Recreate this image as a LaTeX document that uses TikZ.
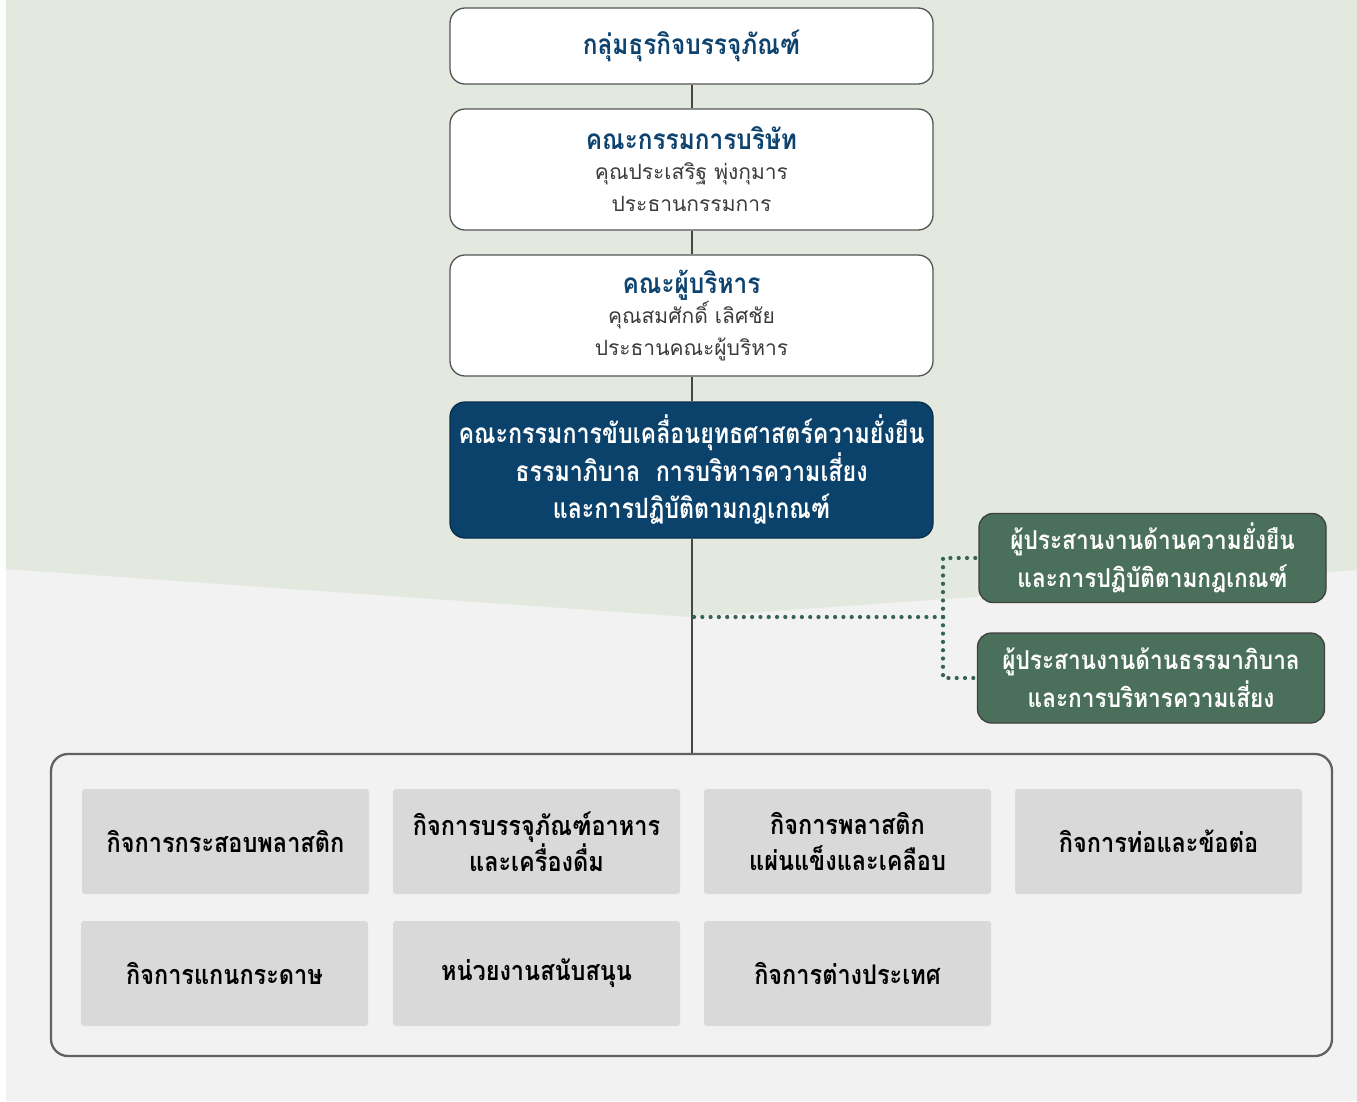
\documentclass[tikz,border=0pt]{standalone}
\usepackage{fontspec}
\setmainfont[Script=Thai]{Loma}
\newfontfamily\thaicond[Script=Thai,FakeStretch=0.83]{Loma}
\newfontfamily\thaicondw[Script=Thai,FakeStretch=0.87]{Loma}
\definecolor{bgGreen}{HTML}{E3E9DF}
\definecolor{bgGray}{HTML}{F2F2F2}
\definecolor{navy}{HTML}{0B426C}
\definecolor{titleblue}{HTML}{0D436E}
\definecolor{coordgreen}{HTML}{4A6F5B}
\definecolor{dotgreen}{HTML}{36644F}
\definecolor{edge}{HTML}{555555}
\definecolor{tile}{HTML}{D9D9D9}
\definecolor{bodygray}{HTML}{3C3C3C}
\tikzset{
  whitebox/.style={draw=edge, line width=1.3pt, fill=white, rounded corners=15pt,
    minimum width=483pt, align=center, text=bodygray},
  navybox/.style={draw=navy!70!black, line width=1.3pt, fill=navy, rounded corners=15pt,
    minimum width=483pt, minimum height=136pt, align=center, text=white,
    font=\thaicond\bfseries\fontsize{28}{37.5}\selectfont},
  greenbox/.style={draw=black!75, line width=1.3pt, fill=coordgreen, rounded corners=14pt,
    minimum width=347pt, minimum height=89pt, align=center, text=white,
    font=\thaicondw\bfseries\fontsize{26}{38}\selectfont},
  tilebox/.style={fill=tile, rounded corners=3pt, minimum width=287pt, minimum height=105pt,
    align=center, text=black, font=\thaicondw\bfseries\fontsize{27}{36}\selectfont},
  frame/.style={draw=black!62, line width=2.3pt, fill=bgGray, rounded corners=17pt,
    minimum width=1281pt, minimum height=302pt},
  conn/.style={draw=black!72, line width=2pt},
  dotline/.style={draw=dotgreen, line width=4.2pt, line cap=round, dash pattern=on 0pt off 8.3pt}
}
\newcommand{\boxtitle}[1]{{\thaicondw\bfseries\fontsize{28}{30}\selectfont\color{titleblue}#1}}
\begin{document}
\begin{tikzpicture}[x=1pt,y=-1pt]
\useasboundingbox (0,0) rectangle (1357,1101);
% background
\fill[white] (0,0) rectangle (1357,1101);
\fill[bgGray] (6,0) rectangle (1357,1101);
\fill[bgGreen] (6,0) -- (1357,0) -- (1357,570) -- (690,617) -- (6,569) -- cycle;

% container
\node[frame] (grp) at (691.5,905) {};

% top chain
\node[whitebox, minimum height=76pt] (top) at (691.5,46)
  {\boxtitle{กลุ่มธุรกิจบรรจุภัณฑ์}};
\node[whitebox, minimum height=121pt, font=\fontsize{21}{32}\selectfont] (board) at (691.5,169.5)
  {\boxtitle{คณะกรรมการบริษัท}\\[-2pt]
   คุณประเสริฐ พุ่งกุมาร\\ ประธานกรรมการ};
\node[whitebox, minimum height=121pt, font=\fontsize{21}{32}\selectfont] (exec) at (691.5,315.5)
  {\boxtitle{คณะผู้บริหาร}\\[-2pt]
   คุณสมศักดิ์ เลิศชัย\\ ประธานคณะผู้บริหาร};
\node[navybox] (drive) at (691.5,470)
  {คณะกรรมการขับเคลื่อนยุทธศาสตร์ความยั่งยืน\\ ธรรมาภิบาล\ \ การบริหารความเสี่ยง\\ และการปฏิบัติตามกฎเกณฑ์};

% coordinators
\node[greenbox] (sus) at (1152.5,558)
  {ผู้ประสานงานด้านความยั่งยืน\\ และการปฏิบัติตามกฎเกณฑ์};
\node[greenbox, minimum height=90pt] (gov) at (1151,678)
  {ผู้ประสานงานด้านธรรมาภิบาล\\ และการบริหารความเสี่ยง};

% connectors
\draw[conn] (top.south) -- (board.north);
\draw[conn] (board.south) -- (exec.north);
\draw[conn] (exec.south) -- (drive.north);
\draw[conn] (drive.south) -- (drive.south |- grp.north);
\coordinate (jn) at (694,617);
\coordinate (split) at (943,617);
\draw[dotline] (jn) -- (split);
\draw[dotline] (split) |- (sus.west);
\draw[dotline] (split) |- (gov.west);

% units
\node[tilebox] (u1) at (225.5,841.5) {กิจการกระสอบพลาสติก};
\node[tilebox] (u2) at (536.5,841.5) {กิจการบรรจุภัณฑ์อาหาร\\ และเครื่องดื่ม};
\node[tilebox] (u3) at (847.5,841.5) {กิจการพลาสติก\\ แผ่นแข็งและเคลือบ};
\node[tilebox] (u4) at (1158.5,841.5) {กิจการท่อและข้อต่อ};
\node[tilebox] (u5) at (224.5,973.5) {กิจการแกนกระดาษ};
\node[tilebox] (u6) at (536.5,973.5) {หน่วยงานสนับสนุน};
\node[tilebox] (u7) at (847.5,973.5) {กิจการต่างประเทศ};
\end{tikzpicture}
\end{document}
